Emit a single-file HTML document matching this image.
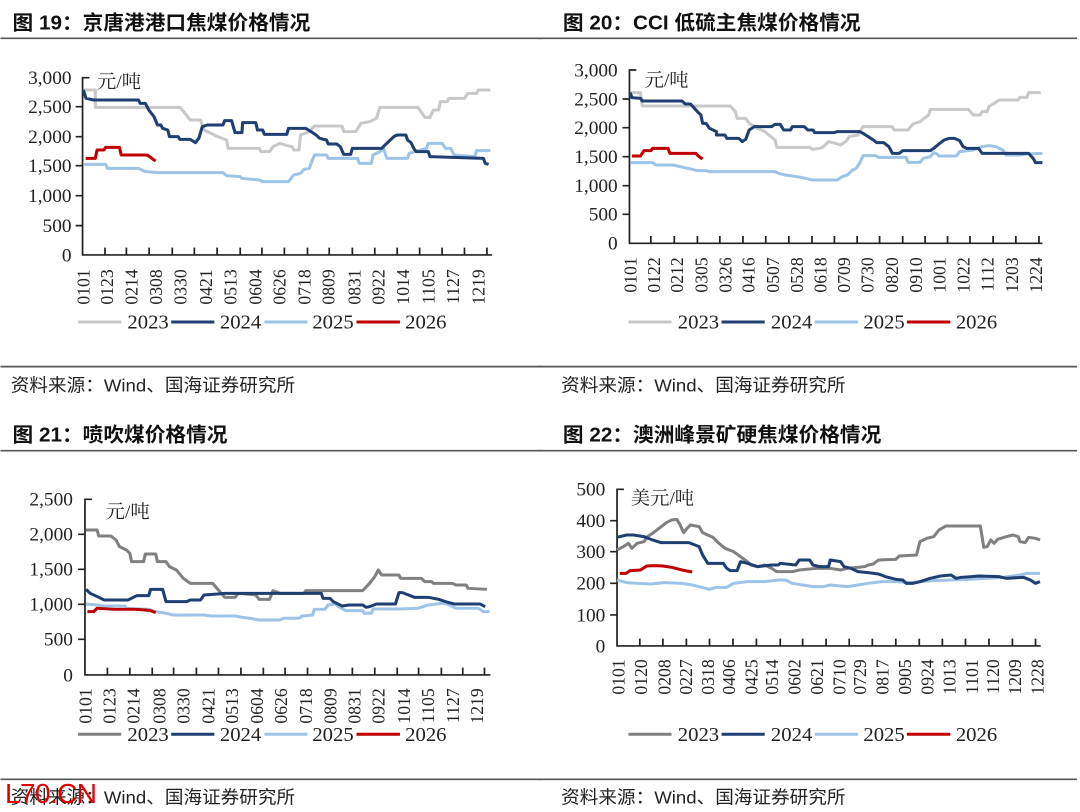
<!DOCTYPE html>
<html><head><meta charset="utf-8"><style>
html,body{margin:0;padding:0;background:#fff;}
svg{display:block;}
.t{font-family:"Liberation Sans","Noto Sans CJK SC",sans-serif;font-size:60px;fill:#111;font-weight:bold;}
.f{font-family:"Liberation Sans","Noto Sans CJK SC",sans-serif;font-size:54px;fill:#222;}
.y{font-family:"Liberation Serif","Noto Serif CJK SC",serif;font-size:56px;fill:#222;text-anchor:end;}
.x{font-family:"Liberation Serif",serif;font-size:53px;fill:#222;text-anchor:end;}
.u{font-family:"Liberation Serif","Noto Serif CJK SC",serif;font-size:56px;fill:#222;}
.l{font-family:"Liberation Serif",serif;font-size:60px;fill:#222;}
.ax{stroke:#222;stroke-width:5;fill:none;}
.hr{stroke:#555;stroke-width:5;}
.s{fill:none;stroke-width:9;stroke-linejoin:round;}
.g1{stroke:#c8c8c8}.g2{stroke:#808080}.nv{stroke:#1f3f73}.lb{stroke:#9dc3e6}.rd{stroke:#c00000}
</style></head><body>
<svg width="1080" height="812" viewBox="0 0 1080 812" xmlns="http://www.w3.org/2000/svg">
<rect width="1080" height="812" fill="#fff"/>

<!-- Q1 -->
<g transform="translate(-3,0) scale(0.345,0.3333)">
<text class="t" x="45" y="88">图 19：京唐港港口焦煤价格情况</text>
<line class="hr" x1="10" y1="115" x2="1580" y2="115"/>
<g class="y"><text x="216" y="252">3,000</text><text x="216" y="339">2,500</text><text x="216" y="429">2,000</text><text x="216" y="516">1,500</text><text x="216" y="606">1,000</text><text x="216" y="696">500</text><text x="216" y="784">0</text></g>
<path class="ax" d="M268,233H248V765H1435M228,320H248M228,410H248M228,497H248M228,587H248M228,677H248M313,765v-22M375,765v-22M441,765v-22M508,765v-22M572,765v-22M638,765v-22M705,765v-22M768,765v-22M833,765v-22M900,765v-22M963,765v-22M1030,765v-22M1095,765v-22M1160,765v-22M1225,765v-22M1290,765v-22M1355,765v-22M1420,765v-22"/>
<text class="u" x="290" y="264">元/吨</text>
<g class="x"><text transform="translate(250,808) rotate(-90)" dy=".35em">0101</text><text transform="translate(318,808) rotate(-90)" dy=".35em">0123</text><text transform="translate(388,808) rotate(-90)" dy=".35em">0214</text><text transform="translate(460,808) rotate(-90)" dy=".35em">0308</text><text transform="translate(530,808) rotate(-90)" dy=".35em">0330</text><text transform="translate(605,808) rotate(-90)" dy=".35em">0421</text><text transform="translate(675,808) rotate(-90)" dy=".35em">0513</text><text transform="translate(748,808) rotate(-90)" dy=".35em">0604</text><text transform="translate(818,808) rotate(-90)" dy=".35em">0626</text><text transform="translate(890,808) rotate(-90)" dy=".35em">0718</text><text transform="translate(960,808) rotate(-90)" dy=".35em">0809</text><text transform="translate(1035,808) rotate(-90)" dy=".35em">0831</text><text transform="translate(1105,808) rotate(-90)" dy=".35em">0922</text><text transform="translate(1175,808) rotate(-90)" dy=".35em">1014</text><text transform="translate(1250,808) rotate(-90)" dy=".35em">1105</text><text transform="translate(1320,808) rotate(-90)" dy=".35em">1127</text><text transform="translate(1395,808) rotate(-90)" dy=".35em">1219</text></g>
<polyline class="s g1" points="250,270 285,270 285,322 530,322 545,340 560,360 590,360 600,390 640,410 665,420 670,445 760,445 765,455 790,455 800,440 820,430 835,435 855,440 860,450 875,450 880,405 905,395 920,378 1000,378 1005,395 1040,395 1055,370 1080,365 1100,355 1110,322 1220,322 1240,352 1255,352 1265,330 1280,330 1285,305 1305,305 1310,295 1355,295 1365,280 1390,280 1395,270 1430,270"/>
<polyline class="s lb" points="250,493 315,493 320,505 410,505 430,515 470,518 655,518 665,527 705,530 710,535 760,540 770,545 845,545 860,525 880,520 890,508 905,505 920,465 955,465 960,475 1045,475 1050,490 1085,490 1090,465 1110,455 1120,445 1130,475 1190,475 1195,460 1210,455 1245,445 1250,430 1290,430 1300,445 1315,445 1325,465 1385,470 1390,452 1430,452"/>
<polyline class="s nv" points="250,270 258,295 280,300 410,300 415,310 430,310 440,330 455,350 465,375 475,375 480,385 495,390 500,410 525,410 530,418 560,418 575,428 585,415 595,380 610,375 655,375 660,362 680,362 690,398 710,398 712,368 750,368 755,390 770,390 775,403 840,403 845,385 895,385 910,395 925,405 935,415 955,420 960,432 985,432 995,440 1005,463 1025,463 1030,445 1115,445 1125,435 1150,410 1160,405 1185,405 1190,420 1200,428 1208,445 1215,455 1250,455 1255,470 1410,475 1415,490 1425,493"/>
<polyline class="s rd" points="257,475 285,475 290,450 310,450 315,442 355,442 360,465 435,465 445,472 455,480 460,483"/>
<g><line class="s g1" x1="235" y1="966" x2="360" y2="966"/><text class="l" x="378" y="986">2023</text><line class="s nv" x1="505" y1="966" x2="630" y2="966"/><text class="l" x="646" y="986">2024</text><line class="s lb" x1="775" y1="966" x2="900" y2="966"/><text class="l" x="914" y="986">2025</text><line class="s rd" x1="1042" y1="966" x2="1168" y2="966"/><text class="l" x="1183" y="986">2026</text></g>
<line class="hr" x1="10" y1="1100" x2="1580" y2="1100"/>
<text class="f" x="40" y="1174">资料来源：Wind、国海证券研究所</text>
</g>

<!-- Q2 -->
<g transform="translate(537,0) scale(0.345,0.3333)">
<text class="t" x="75" y="88">图 20：CCI 低硫主焦煤价格情况</text>
<line class="hr" x1="0" y1="115" x2="1565" y2="115"/>
<g class="y"><text x="234" y="229">3,000</text><text x="234" y="316">2,500</text><text x="234" y="402">2,000</text><text x="234" y="489">1,500</text><text x="234" y="576">1,000</text><text x="234" y="662">500</text><text x="234" y="749">0</text></g>
<path class="ax" d="M288,210H268V730H1465M248,297H268M248,383H268M248,470H268M248,557H268M248,643H268M330,730v-22M398,730v-22M465,730v-22M530,730v-22M597,730v-22M663,730v-22M730,730v-22M797,730v-22M862,730v-22M928,730v-22M993,730v-22M1060,730v-22M1125,730v-22M1190,730v-22M1255,730v-22M1322,730v-22M1388,730v-22M1455,730v-22"/>
<text class="u" x="312" y="260">元/吨</text>
<g class="x"><text transform="translate(270,772) rotate(-90)" dy=".35em">0101</text><text transform="translate(338,772) rotate(-90)" dy=".35em">0122</text><text transform="translate(405,772) rotate(-90)" dy=".35em">0212</text><text transform="translate(475,772) rotate(-90)" dy=".35em">0305</text><text transform="translate(545,772) rotate(-90)" dy=".35em">0326</text><text transform="translate(612,772) rotate(-90)" dy=".35em">0416</text><text transform="translate(683,772) rotate(-90)" dy=".35em">0507</text><text transform="translate(752,772) rotate(-90)" dy=".35em">0528</text><text transform="translate(820,772) rotate(-90)" dy=".35em">0618</text><text transform="translate(888,772) rotate(-90)" dy=".35em">0709</text><text transform="translate(957,772) rotate(-90)" dy=".35em">0730</text><text transform="translate(1028,772) rotate(-90)" dy=".35em">0820</text><text transform="translate(1097,772) rotate(-90)" dy=".35em">0910</text><text transform="translate(1165,772) rotate(-90)" dy=".35em">1001</text><text transform="translate(1235,772) rotate(-90)" dy=".35em">1022</text><text transform="translate(1305,772) rotate(-90)" dy=".35em">1112</text><text transform="translate(1375,772) rotate(-90)" dy=".35em">1203</text><text transform="translate(1445,772) rotate(-90)" dy=".35em">1224</text></g>
<polyline class="s g1" points="270,278 300,278 305,318 560,318 575,335 580,355 605,355 615,370 640,385 660,395 690,420 695,442 790,442 800,448 820,445 830,440 845,425 865,430 880,435 895,425 905,410 930,405 945,380 1030,380 1035,390 1075,390 1090,372 1110,365 1135,345 1140,328 1250,328 1265,345 1285,345 1290,335 1305,335 1310,320 1340,300 1395,300 1400,292 1420,292 1425,278 1460,278"/>
<polyline class="s lb" points="270,488 335,488 345,495 395,495 415,500 450,508 465,512 490,512 500,515 690,515 700,520 720,525 740,528 765,532 790,538 800,540 870,540 885,530 900,525 915,510 925,505 935,490 945,467 980,467 990,472 1070,472 1075,487 1110,487 1120,475 1140,470 1150,458 1160,462 1165,468 1215,468 1225,455 1265,450 1290,440 1310,437 1330,440 1350,450 1360,465 1400,465 1420,462 1465,460"/>
<polyline class="s nv" points="270,278 275,293 300,295 305,303 420,303 430,312 445,312 465,335 475,345 480,370 490,370 500,385 520,395 520,405 545,405 550,415 585,415 595,425 605,418 615,390 630,380 680,380 690,373 705,373 715,390 735,390 740,380 775,380 785,390 800,390 805,398 860,398 870,395 935,395 945,400 960,410 975,420 985,428 1005,428 1020,440 1030,460 1050,460 1060,452 1140,452 1150,445 1165,432 1180,420 1195,415 1210,415 1225,422 1235,440 1245,445 1280,445 1290,460 1425,460 1440,478 1445,488 1465,488"/>
<polyline class="s rd" points="275,468 300,468 310,452 330,452 335,445 380,445 385,460 460,460 470,470 480,477"/>
<g><line class="s g1" x1="265" y1="966" x2="390" y2="966"/><text class="l" x="408" y="986">2023</text><line class="s nv" x1="535" y1="966" x2="660" y2="966"/><text class="l" x="678" y="986">2024</text><line class="s lb" x1="805" y1="966" x2="930" y2="966"/><text class="l" x="946" y="986">2025</text><line class="s rd" x1="1072" y1="966" x2="1198" y2="966"/><text class="l" x="1214" y="986">2026</text></g>
<line class="hr" x1="0" y1="1100" x2="1565" y2="1100"/>
<text class="f" x="70" y="1174">资料来源：Wind、国海证券研究所</text>
</g>

<!-- Q3 -->
<g transform="translate(-3,400) scale(0.345,0.3333)">
<text class="t" x="45" y="125">图 21：喷吹煤价格情况</text>
<line class="hr" x1="10" y1="152" x2="1580" y2="152"/>
<g class="y"><text x="220" y="317">2,500</text><text x="220" y="422">2,000</text><text x="220" y="527">1,500</text><text x="220" y="632">1,000</text><text x="220" y="737">500</text><text x="220" y="844">0</text></g>
<path class="ax" d="M275,298H255V825H1430M235,403H255M235,508H255M235,613H255M235,718H255M320,825v-22M385,825v-22M450,825v-22M512,825v-22M578,825v-22M642,825v-22M707,825v-22M772,825v-22M835,825v-22M900,825v-22M965,825v-22M1030,825v-22M1095,825v-22M1160,825v-22M1222,825v-22M1288,825v-22M1350,825v-22M1413,825v-22"/>
<text class="u" x="315" y="354">元/吨</text>
<g class="x"><text transform="translate(255,865) rotate(-90)" dy=".35em">0101</text><text transform="translate(325,865) rotate(-90)" dy=".35em">0123</text><text transform="translate(395,865) rotate(-90)" dy=".35em">0214</text><text transform="translate(470,865) rotate(-90)" dy=".35em">0308</text><text transform="translate(540,865) rotate(-90)" dy=".35em">0330</text><text transform="translate(612,865) rotate(-90)" dy=".35em">0421</text><text transform="translate(680,865) rotate(-90)" dy=".35em">0513</text><text transform="translate(752,865) rotate(-90)" dy=".35em">0604</text><text transform="translate(822,865) rotate(-90)" dy=".35em">0626</text><text transform="translate(895,865) rotate(-90)" dy=".35em">0718</text><text transform="translate(965,865) rotate(-90)" dy=".35em">0809</text><text transform="translate(1035,865) rotate(-90)" dy=".35em">0831</text><text transform="translate(1105,865) rotate(-90)" dy=".35em">0922</text><text transform="translate(1178,865) rotate(-90)" dy=".35em">1014</text><text transform="translate(1248,865) rotate(-90)" dy=".35em">1105</text><text transform="translate(1320,865) rotate(-90)" dy=".35em">1127</text><text transform="translate(1390,865) rotate(-90)" dy=".35em">1219</text></g>
<polyline class="s g2" points="258,390 290,390 295,408 330,408 345,420 355,440 375,450 385,460 390,485 425,485 430,462 460,462 465,485 490,485 500,500 520,510 540,535 560,550 625,550 640,568 650,580 660,592 690,592 700,580 750,585 760,598 790,598 800,572 820,580 890,580 895,572 1060,572 1080,550 1095,530 1105,510 1115,525 1165,525 1170,535 1230,535 1240,545 1260,545 1265,550 1320,550 1330,555 1360,555 1365,565 1420,568"/>
<polyline class="s lb" points="258,612 290,615 305,618 370,618 375,625 440,628 460,635 490,640 510,645 600,645 620,648 690,648 710,652 740,656 760,660 820,660 830,655 875,655 885,648 915,645 920,628 950,628 960,615 980,612 990,620 1010,632 1060,632 1065,640 1085,640 1090,627 1160,627 1220,625 1250,615 1290,610 1305,612 1330,625 1395,625 1410,635 1428,635"/>
<polyline class="s nv" points="258,568 270,580 295,592 310,600 380,600 405,587 440,587 445,568 480,568 490,605 550,605 560,600 590,600 600,585 640,582 660,580 940,580 945,595 965,595 975,605 1000,618 1020,615 1060,615 1070,622 1080,620 1100,612 1155,612 1165,578 1175,578 1210,592 1250,592 1280,598 1300,605 1325,612 1400,612 1415,620"/>
<polyline class="s rd" points="262,635 280,635 290,625 340,628 400,628 430,630 445,632 460,638"/>
<g><line class="s g2" x1="235" y1="1003" x2="360" y2="1003"/><text class="l" x="378" y="1023">2023</text><line class="s nv" x1="505" y1="1003" x2="630" y2="1003"/><text class="l" x="646" y="1023">2024</text><line class="s lb" x1="775" y1="1003" x2="900" y2="1003"/><text class="l" x="914" y="1023">2025</text><line class="s rd" x1="1042" y1="1003" x2="1168" y2="1003"/><text class="l" x="1183" y="1023">2026</text></g>
<line class="hr" x1="10" y1="1138" x2="1580" y2="1138"/>
<text class="f" x="40" y="1210">资料来源：Wind、国海证券研究所</text>
</g>

<!-- Q4 -->
<g transform="translate(537,400) scale(0.345,0.3333)">
<text class="t" x="75" y="125">图 22：澳洲峰景矿硬焦煤价格情况</text>
<line class="hr" x1="0" y1="152" x2="1565" y2="152"/>
<g class="y"><text x="198" y="287">500</text><text x="198" y="381">400</text><text x="198" y="474">300</text><text x="198" y="569">200</text><text x="198" y="664">100</text><text x="198" y="757">0</text></g>
<path class="ax" d="M252,268H232V738H1460M212,362H232M212,455H232M212,550H232M212,645H232M298,738v-22M365,738v-22M433,738v-22M500,738v-22M568,738v-22M636,738v-22M705,738v-22M770,738v-22M838,738v-22M905,738v-22M972,738v-22M1040,738v-22M1108,738v-22M1175,738v-22M1242,738v-22M1310,738v-22M1378,738v-22M1445,738v-22"/>
<text class="u" x="272" y="314">美元/吨</text>
<g class="x"><text transform="translate(235,778) rotate(-90)" dy=".35em">0101</text><text transform="translate(300,778) rotate(-90)" dy=".35em">0120</text><text transform="translate(368,778) rotate(-90)" dy=".35em">0208</text><text transform="translate(430,778) rotate(-90)" dy=".35em">0227</text><text transform="translate(495,778) rotate(-90)" dy=".35em">0318</text><text transform="translate(555,778) rotate(-90)" dy=".35em">0406</text><text transform="translate(620,778) rotate(-90)" dy=".35em">0425</text><text transform="translate(680,778) rotate(-90)" dy=".35em">0514</text><text transform="translate(745,778) rotate(-90)" dy=".35em">0602</text><text transform="translate(810,778) rotate(-90)" dy=".35em">0621</text><text transform="translate(875,778) rotate(-90)" dy=".35em">0710</text><text transform="translate(935,778) rotate(-90)" dy=".35em">0729</text><text transform="translate(1000,778) rotate(-90)" dy=".35em">0817</text><text transform="translate(1065,778) rotate(-90)" dy=".35em">0905</text><text transform="translate(1130,778) rotate(-90)" dy=".35em">0924</text><text transform="translate(1195,778) rotate(-90)" dy=".35em">1013</text><text transform="translate(1260,778) rotate(-90)" dy=".35em">1101</text><text transform="translate(1320,778) rotate(-90)" dy=".35em">1120</text><text transform="translate(1385,778) rotate(-90)" dy=".35em">1209</text><text transform="translate(1450,778) rotate(-90)" dy=".35em">1228</text></g>
<polyline class="s g2" points="232,450 250,440 265,430 275,445 290,430 310,425 320,410 335,400 345,392 360,380 375,368 390,360 405,358 415,375 425,398 435,385 445,375 470,380 480,398 495,405 510,412 525,428 545,445 570,455 590,470 610,485 620,495 640,500 660,495 680,505 695,515 740,515 760,510 810,505 850,505 880,510 900,505 950,500 960,495 975,492 990,480 1040,478 1050,468 1100,465 1110,425 1130,415 1150,410 1165,390 1185,378 1285,378 1295,442 1305,440 1315,420 1325,430 1335,418 1360,410 1380,405 1395,410 1400,425 1415,428 1425,412 1445,415 1458,420"/>
<polyline class="s lb" points="232,540 260,548 290,550 330,552 370,548 420,550 450,555 470,560 500,568 520,562 550,562 570,550 610,545 660,545 700,540 720,540 740,550 770,555 800,560 830,560 850,555 880,558 900,560 930,555 960,550 1000,545 1040,545 1080,548 1110,545 1150,542 1200,540 1250,538 1300,535 1350,532 1400,525 1420,520 1458,520"/>
<polyline class="s nv" points="232,412 260,405 280,405 310,410 335,420 360,428 440,428 470,440 480,465 495,490 540,490 550,505 560,512 580,512 590,485 610,490 640,500 680,495 700,495 705,490 750,495 760,480 790,480 800,495 820,500 845,500 850,480 880,485 890,500 910,505 930,515 960,518 990,522 1010,530 1040,538 1060,540 1070,550 1090,550 1110,545 1140,535 1170,528 1200,525 1215,535 1230,532 1260,530 1280,528 1340,530 1360,535 1410,532 1430,540 1445,550 1458,545"/>
<polyline class="s rd" points="240,520 258,520 270,512 300,510 318,498 340,497 365,498 390,502 420,510 450,516"/>
<g><line class="s g2" x1="265" y1="1003" x2="390" y2="1003"/><text class="l" x="408" y="1023">2023</text><line class="s nv" x1="535" y1="1003" x2="660" y2="1003"/><text class="l" x="678" y="1023">2024</text><line class="s lb" x1="805" y1="1003" x2="930" y2="1003"/><text class="l" x="946" y="1023">2025</text><line class="s rd" x1="1072" y1="1003" x2="1198" y2="1003"/><text class="l" x="1214" y="1023">2026</text></g>
<line class="hr" x1="0" y1="1138" x2="1565" y2="1138"/>
<text class="f" x="70" y="1210">资料来源：Wind、国海证券研究所</text>
</g>

<text x="5" y="803" font-family="Liberation Sans, sans-serif" font-size="28" fill="#e00000" textLength="92">L70.CN</text>
</svg>
</body></html>
